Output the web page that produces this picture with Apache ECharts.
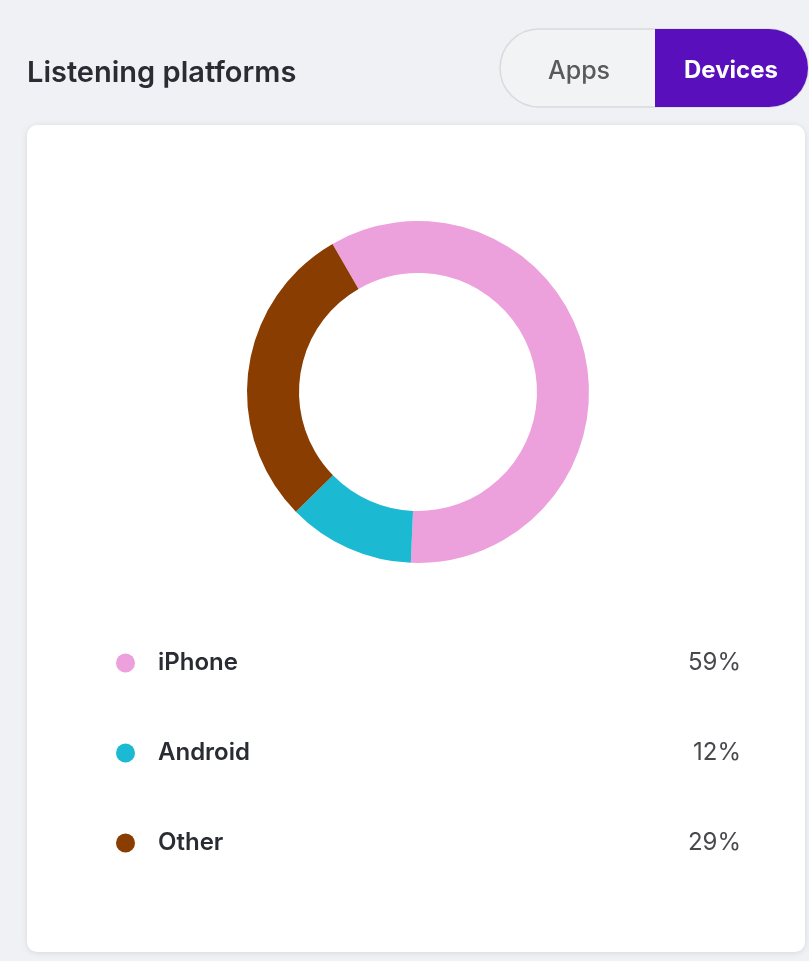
<!DOCTYPE html>
<html>
<head>
<meta charset="utf-8">
<script src="https://cdn.jsdelivr.net/npm/echarts@6/dist/echarts.min.js"></script>
<style>
html,body{margin:0;padding:0;background:#f0f1f4;}
#chart{width:809px;height:961px;}
</style>
</head>
<body>
<div id="chart"></div>
<script>
const titleText = 'Listening platforms';
const toggleLabels = ['Apps', 'Devices'];
const categories = ['iPhone', 'Android', 'Other'];
const shares = [59, 12, 29];
const colors = ['#eca0dc', '#1cb9d3', '#8a3d00'];

const chart = echarts.init(document.getElementById('chart'), null, {renderer: 'canvas'});
const FONT = 'Inter, "Noto Sans", sans-serif';

const seriesData = categories.map((c, i) => ({name: c, value: shares[i], itemStyle: {color: colors[i]}}));
const pctOf = {};
categories.forEach((c, i) => pctOf[c] = shares[i]);

const option = {
  backgroundColor: '#f0f1f4',
  animation: false,
  graphic: [
    {type: 'rect', shape: {x: 27, y: 125, width: 778, height: 827, r: 10},
     style: {fill: '#ffffff', shadowBlur: 6, shadowColor: 'rgba(0,0,0,0.10)', shadowOffsetY: 1}, z: -10},
    {type: 'rect', shape: {x: 500, y: 29, width: 308, height: 78, r: 39},
     style: {fill: '#f2f3f5', stroke: '#d9dadd', lineWidth: 1.5}, z: -5},
    {type: 'rect', shape: {x: 655, y: 29, width: 153, height: 78, r: [0, 39, 39, 0]},
     style: {fill: '#5a0fbd'}, z: -4},
    {type: 'text', x: 579, y: 71, style: {text: toggleLabels[0], fill: '#5a5a5e', font: '500 25px ' + FONT, textAlign: 'center', textVerticalAlign: 'middle'}},
    {type: 'text', x: 731, y: 71, style: {text: toggleLabels[1], fill: '#ffffff', font: '700 24px ' + FONT, textAlign: 'center', textVerticalAlign: 'middle'}},
    {type: 'text', x: 27, y: 73, style: {text: titleText, fill: '#2a2c33', font: '600 29px ' + FONT, textAlign: 'left', textVerticalAlign: 'middle'}}
  ],
  legend: {
    orient: 'vertical',
    left: 116,
    top: 651,
    padding: 0,
    icon: 'circle',
    itemWidth: 19,
    itemHeight: 19,
    itemGap: 66,
    selectedMode: false,
    data: categories,
    formatter: name => '{n|' + name + '}{v|' + pctOf[name] + '%}',
    textStyle: {
      rich: {
        n: {fontFamily: FONT, fontSize: 24, fontWeight: 600, color: '#2a2c33', width: 523, padding: [0, 0, 0, 18], lineHeight: 24},
        v: {fontFamily: FONT, fontSize: 24, fontWeight: 400, color: '#48484d', width: 60, align: 'right', lineHeight: 24}
      }
    }
  },
  series: [{
    type: 'pie',
    center: [418, 392],
    radius: [119, 171],
    startAngle: 120,
    clockwise: true,
    label: {show: false},
    labelLine: {show: false},
    emphasis: {disabled: true},
    itemStyle: {borderWidth: 0},
    data: seriesData
  }]
};
chart.setOption(option);
</script>
</body>
</html>
